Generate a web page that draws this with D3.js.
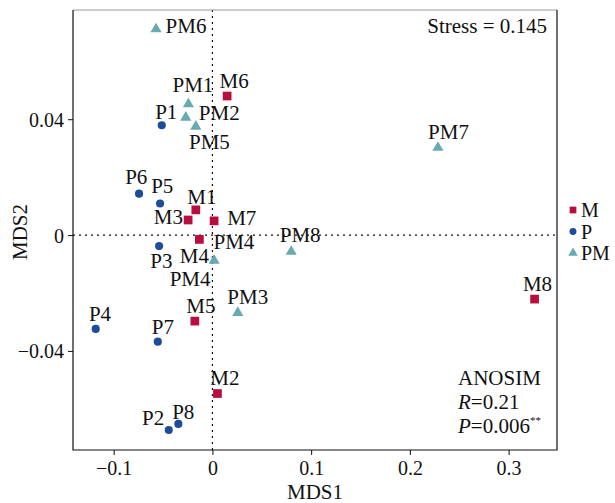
<!DOCTYPE html>
<html>
<head>
<meta charset="utf-8">
<script src="https://cdn.jsdelivr.net/npm/d3@7"></script>
<style>
  body { margin: 0; background: #fff; }
  svg text { font-family: "Liberation Serif", "DejaVu Serif", serif; fill: #111; }
</style>
</head>
<body>
<svg id="chart" width="615" height="503"></svg>
<script>
// NMDS scores
const groups = ['M', 'P', 'PM'];
const groupColors = ['#B80D3E', '#1F4B9B', '#69A9B2'];

const mNames = ['M1', 'M2', 'M3', 'M4', 'M5', 'M6', 'M7', 'M8'];
const mMDS1 = [-0.0168, 0.0051, -0.0246, -0.0132, -0.0178, 0.0149, 0.0017, 0.3263];
const mMDS2 = [0.0087, -0.0547, 0.0052, -0.0015, -0.0297, 0.0480, 0.0049, -0.0221];

const pNames = ['P1', 'P2', 'P3', 'P4', 'P5', 'P6', 'P7', 'P8'];
const pMDS1 = [-0.0513, -0.0442, -0.0540, -0.1182, -0.0530, -0.0743, -0.0553, -0.0345];
const pMDS2 = [0.0379, -0.0673, -0.0038, -0.0324, 0.0109, 0.0143, -0.0368, -0.0652];

const pmNames = ['PM1', 'PM2', 'PM3', 'PM4', 'PM5', 'PM6', 'PM7', 'PM8'];
const pmMDS1 = [-0.0243, -0.0270, 0.0257, 0.0017, -0.0168, -0.0571, 0.2284, 0.0798];
const pmMDS2 = [0.0452, 0.0406, -0.0268, -0.0088, 0.0375, 0.0711, 0.0302, -0.0057];

const xTicks = [-0.1, 0, 0.1, 0.2, 0.3];
const yTicks = [-0.04, 0, 0.04];
const xDomain = [-0.1412, 0.3490];
const yDomain = [-0.0742, 0.0777];

// where the (repelled) labels ended up, in pixels from their point
const labelPlacement = [
  ['PM6', 'PM6', 30, 4], ['PM1', 'PM1', 4.5, -12.6], ['M6', 'M6', 7, -7.7],
  ['P1', 'P1', 4.5, -6], ['PM2', 'PM2', 33.5, 2.6], ['PM5', 'PM5', 13.6, 22.6],
  ['P6', 'P6', -2.8, -9.7], ['P5', 'P5', 2.2, -10], ['M1', 'M1', 6, -5.7],
  ['M3', 'M3', -19.7, 4], ['M7', 'M7', 27.7, 4.5], ['M4', 'M4', -5, 24],
  ['PM4', 'PM4', 19.8, -12], ['PM4', 'PM4', -24, 25], ['P3', 'P3', 2.2, 22.3],
  ['PM8', 'PM8', 9, -10], ['PM3', 'PM3', 10, -8.4], ['M5', 'M5', 6.1, -7.7],
  ['P4', 'P4', 4.3, -8], ['P7', 'P7', 5.1, -7.7], ['M2', 'M2', 7.5, -8.3],
  ['P2', 'P2', -15.7, -5], ['P8', 'P8', 4.9, -5.4], ['PM7', 'PM7', 10.6, -9],
  ['M8', 'M8', 2.9, -8.3]
];

const FONT = '"Liberation Serif", "DejaVu Serif", serif';
const svg = d3.select('#chart');
const margin = {left: 73, top: 10, right: 58, bottom: 53};
const W = 615, H = 503;

let x = d3.scaleLinear().domain(xDomain).range([margin.left, W - margin.right]);
let y = d3.scaleLinear().domain(yDomain).range([H - margin.bottom, margin.top]);

let points = [];
[[mNames, mMDS1, mMDS2], [pNames, pMDS1, pMDS2], [pmNames, pmMDS1, pmMDS2]].forEach(function(g, gi) {
  g[0].forEach(function(n, i) {
    points.push({name: n, group: gi, x: g[1][i], y: g[2][i]});
  });
});
let byName = {};
points.forEach(function(p) { byName[p.name] = p; });

let shapes = [
  d3.symbol(d3.symbolSquare, 76),
  d3.symbol(d3.symbolCircle, 52),
  d3.symbol(d3.symbolTriangle, 54)
];

// zero reference lines
svg.append('line')
  .attr('x1', x(0)).attr('x2', x(0))
  .attr('y1', margin.top).attr('y2', H - margin.bottom)
  .attr('stroke', '#111').attr('stroke-width', 1.2)
  .attr('stroke-dasharray', '2,4');
svg.append('line')
  .attr('x1', margin.left).attr('x2', W - margin.right)
  .attr('y1', y(0)).attr('y2', y(0))
  .attr('stroke', '#111').attr('stroke-width', 1.2)
  .attr('stroke-dasharray', '2,4');

// axes
let xAxis = svg.append('g')
  .attr('transform', 'translate(0,' + (H - margin.bottom) + ')')
  .call(d3.axisBottom(x).tickValues(xTicks).tickSize(5).tickPadding(6)
    .tickFormat(function(d) { return d === 0 ? '0' : d3.format('.1f')(d).replace('-', '\u2212'); }));
let yAxis = svg.append('g')
  .attr('transform', 'translate(' + margin.left + ',0)')
  .call(d3.axisLeft(y).tickValues(yTicks).tickSize(5).tickPadding(4)
    .tickFormat(function(d) { return d === 0 ? '0' : d3.format('.2f')(d).replace('-', '\u2212'); }));
[xAxis, yAxis].forEach(function(a) {
  a.attr('font-family', FONT);
  a.selectAll('text').style('font-size', '20px').attr('fill', '#222');
  a.selectAll('.tick line').attr('stroke', '#111');
  a.select('.domain').remove();
});
yAxis.selectAll('text').attr('dy', '0.35em');

// panel border
svg.append('line')
  .attr('x1', margin.left).attr('x2', W - margin.right)
  .attr('y1', margin.top).attr('y2', margin.top)
  .attr('stroke', '#999').attr('stroke-width', 1.2);
svg.append('path')
  .attr('d', 'M' + margin.left + ',' + margin.top + 'V' + (H - margin.bottom) +
    'H' + (W - margin.right) + 'V' + margin.top)
  .attr('fill', 'none').attr('stroke', '#111').attr('stroke-width', 1.2);

// points
svg.selectAll('path.pt')
  .data(points)
  .enter()
  .append('path')
  .attr('class', 'pt')
  .attr('d', function(d) { return shapes[d.group](); })
  .attr('transform', function(d) { return 'translate(' + x(d.x) + ',' + y(d.y) + ')'; })
  .attr('fill', function(d) { return groupColors[d.group]; });

// labels
svg.selectAll('text.lab')
  .data(labelPlacement)
  .enter()
  .append('text')
  .attr('class', 'lab')
  .attr('x', function(d) { return x(byName[d[0]].x) + d[2]; })
  .attr('y', function(d) { return y(byName[d[0]].y) + d[3]; })
  .attr('text-anchor', 'middle')
  .style('font-size', '21px')
  .text(function(d) { return d[1]; });

// axis titles
svg.append('text')
  .attr('x', (margin.left + W - margin.right) / 2)
  .attr('y', 499)
  .attr('text-anchor', 'middle')
  .style('font-size', '21px')
  .text('MDS1');
svg.append('text')
  .attr('transform', 'translate(27,' + 232 + ') rotate(-90)')
  .attr('text-anchor', 'middle')
  .style('font-size', '21px')
  .text('MDS2');

// stress
svg.append('text')
  .attr('x', 547).attr('y', 33)
  .attr('text-anchor', 'end')
  .style('font-size', '21px')
  .text('Stress = 0.145');

// ANOSIM result
let an = svg.append('text').style('font-size', '21px');
an.append('tspan').attr('x', 458).attr('y', 385).text('ANOSIM');
let r = an.append('tspan').attr('x', 458).attr('y', 408.5);
r.append('tspan').style('font-style', 'italic').text('R');
r.append('tspan').text('=0.21');
let p = an.append('tspan').attr('x', 458).attr('y', 432.5);
p.append('tspan').style('font-style', 'italic').text('P');
p.append('tspan').text('=0.006');
p.append('tspan').attr('dy', -9).style('font-size', '11px').text('**');

// legend
let legend = svg.append('g');
let legendShapes = [
  d3.symbol(d3.symbolSquare, 45),
  d3.symbol(d3.symbolCircle, 38),
  d3.symbol(d3.symbolTriangle, 40)
];
groups.forEach(function(g, i) {
  let ly = 210 + i * 21.5;
  legend.append('path')
    .attr('d', legendShapes[i]())
    .attr('transform', 'translate(573,' + ly + ')')
    .attr('fill', groupColors[i]);
  legend.append('text')
    .attr('x', 581).attr('y', ly + 7)
    .style('font-size', '20px')
    .text(g);
});

svg.selectAll('text').style('font-family', FONT);
</script>
</body>
</html>
